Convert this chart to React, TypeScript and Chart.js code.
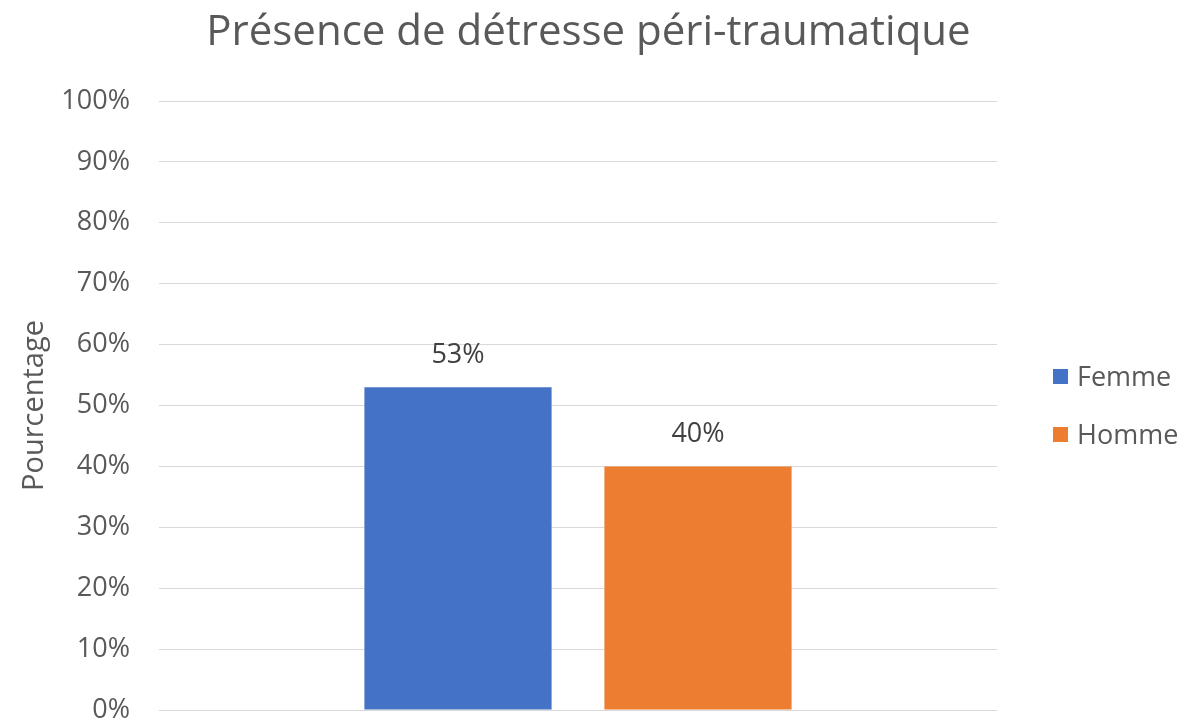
import React, { useEffect, useRef } from "react";
import { Chart, registerables } from "chart.js";

Chart.register(...registerables);

const chartTitle = "Présence de détresse péri-traumatique";
const yAxisTitle = "Pourcentage";
const categories = ["Présence de détresse péri-traumatique"];
const seriesNames = ["Femme", "Homme"];
const femmeValues = [53];
const hommeValues = [40];
const seriesColors = ["#4472C4", "#ED7D31"];
const yMin = 0;
const yMax = 100;
const yStep = 10;

const FONT = "'Open Sans', sans-serif";
const TEXT = "#595959";

const titlePlugin = {
  id: "customTitle",
  afterDraw(chart: any) {
    const ctx = chart.ctx;
    ctx.save();
    ctx.font = `42px ${FONT}`;
    ctx.fillStyle = TEXT;
    ctx.textAlign = "center";
    ctx.textBaseline = "alphabetic";
    ctx.fillText(chartTitle, chart.width / 2 - 2, 45);
    ctx.restore();
  },
};

const dataLabelPlugin = {
  id: "dataLabels",
  afterDatasetsDraw(chart: any) {
    const ctx = chart.ctx;
    ctx.save();
    ctx.font = `27px ${FONT}`;
    ctx.fillStyle = "#404040";
    ctx.textAlign = "center";
    ctx.textBaseline = "alphabetic";
    chart.data.datasets.forEach((ds: any, i: number) => {
      const meta = chart.getDatasetMeta(i);
      meta.data.forEach((bar: any, j: number) => {
        ctx.fillText(ds.data[j] + "%", bar.x, bar.y - 24);
      });
    });
    ctx.restore();
  },
};

const legendPlugin = {
  id: "customLegend",
  afterDraw(chart: any) {
    const ctx = chart.ctx;
    ctx.save();
    ctx.font = `27px ${FONT}`;
    ctx.textAlign = "left";
    ctx.textBaseline = "alphabetic";
    const x0 = 1053;
    const ys = [377, 435];
    chart.data.datasets.forEach((ds: any, i: number) => {
      const cy = ys[i];
      ctx.fillStyle = ds.backgroundColor;
      ctx.fillRect(x0, cy - 8, 15, 15);
      ctx.fillStyle = TEXT;
      ctx.fillText(ds.label, 1077, cy + 9);
    });
    ctx.restore();
  },
};

export default function App() {
  const canvasRef = useRef<HTMLCanvasElement | null>(null);

  useEffect(() => {
    if (!canvasRef.current) return;
    const chart = new Chart(canvasRef.current, {
      type: "bar",
      data: {
        labels: categories,
        datasets: [
          {
            label: seriesNames[0],
            data: femmeValues,
            backgroundColor: seriesColors[0],
            categoryPercentage: 0.5728,
            barPercentage: 0.78,
          },
          {
            label: seriesNames[1],
            data: hommeValues,
            backgroundColor: seriesColors[1],
            categoryPercentage: 0.5728,
            barPercentage: 0.78,
          },
        ],
      },
      options: {
        responsive: false,
        maintainAspectRatio: false,
        animation: false,
        devicePixelRatio: 1,
        layout: { padding: { top: 101, right: 184, bottom: 13, left: 0 } },
        plugins: {
          legend: { display: false },
          title: { display: false },
          tooltip: { enabled: false },
        },
        scales: {
          x: { display: false },
          y: {
            min: yMin,
            max: yMax,
            ticks: {
              stepSize: yStep,
              padding: 0,
              color: TEXT,
              font: { family: FONT, size: 27, lineHeight: 0.9 },
              callback: (v: any) => v + "%",
            },
            grid: {
              color: "#D9D9D9",
              lineWidth: 1,
              drawTicks: true,
              tickLength: 29,
              tickColor: "rgba(0,0,0,0)",
            },
            border: { display: false },
            title: {
              display: true,
              text: yAxisTitle,
              color: TEXT,
              font: { family: FONT, size: 29 },
              padding: { top: 17, bottom: 0 },
            },
            afterFit: (scale: any) => {
              scale.width = 159;
            },
          },
        },
      },
      plugins: [titlePlugin, dataLabelPlugin, legendPlugin],
    });
    return () => chart.destroy();
  }, []);

  return (
    <div style={{ position: "absolute", left: 0, top: 0, width: 1181, height: 723, background: "#fff" }}>
      <canvas ref={canvasRef} width={1181} height={723} style={{ display: "block", width: 1181, height: 723 }} />
    </div>
  );
}
